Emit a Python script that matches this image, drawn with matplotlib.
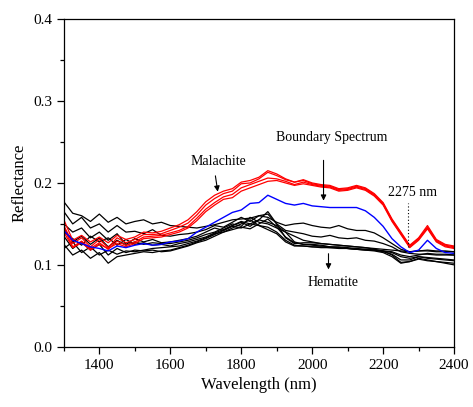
import numpy as np
import matplotlib.pyplot as plt
from matplotlib.ticker import MultipleLocator

plt.rcParams['font.family'] = ['Liberation Serif', 'DejaVu Serif']

# wavelength grid (nm)
wl = np.arange(1300, 2401, 25)

blue = [0.142, 0.130, 0.126, 0.122, 0.120, 0.117, 0.123, 0.121, 0.124, 0.126, 0.124, 0.125,
        0.128, 0.129, 0.132, 0.140, 0.146, 0.152, 0.158, 0.164, 0.167, 0.175, 0.176, 0.185,
        0.180, 0.175, 0.173, 0.175, 0.172, 0.171, 0.170, 0.170, 0.170, 0.170, 0.166, 0.158,
        0.147, 0.132, 0.122, 0.115, 0.118, 0.130, 0.120, 0.115, 0.114]

red1 = [0.155, 0.130, 0.136, 0.128, 0.134, 0.127, 0.136, 0.131, 0.134, 0.140, 0.139, 0.141,
        0.145, 0.149, 0.155, 0.165, 0.177, 0.185, 0.190, 0.193, 0.201, 0.203, 0.207, 0.215,
        0.211, 0.205, 0.201, 0.204, 0.200, 0.198, 0.197, 0.193, 0.194, 0.197, 0.194, 0.187,
        0.176, 0.156, 0.140, 0.124, 0.133, 0.148, 0.131, 0.125, 0.123]
red2 = [0.148, 0.126, 0.133, 0.122, 0.131, 0.121, 0.133, 0.127, 0.131, 0.137, 0.137, 0.138,
        0.142, 0.146, 0.151, 0.161, 0.173, 0.181, 0.187, 0.190, 0.199, 0.200, 0.205, 0.213,
        0.209, 0.204, 0.201, 0.203, 0.199, 0.197, 0.196, 0.192, 0.193, 0.196, 0.193, 0.186,
        0.175, 0.155, 0.139, 0.123, 0.132, 0.146, 0.130, 0.124, 0.122]
red3 = [0.145, 0.122, 0.129, 0.120, 0.127, 0.119, 0.129, 0.124, 0.128, 0.134, 0.135, 0.136,
        0.139, 0.142, 0.147, 0.157, 0.168, 0.176, 0.183, 0.186, 0.194, 0.198, 0.202, 0.206,
        0.205, 0.202, 0.198, 0.201, 0.198, 0.196, 0.195, 0.191, 0.192, 0.195, 0.192, 0.185,
        0.174, 0.154, 0.138, 0.122, 0.131, 0.145, 0.129, 0.123, 0.121]
red4 = [0.140, 0.121, 0.127, 0.118, 0.125, 0.120, 0.126, 0.122, 0.126, 0.132, 0.133, 0.134,
        0.137, 0.140, 0.145, 0.154, 0.165, 0.173, 0.180, 0.182, 0.190, 0.194, 0.198, 0.202,
        0.203, 0.200, 0.197, 0.199, 0.197, 0.195, 0.194, 0.190, 0.191, 0.194, 0.191, 0.184,
        0.173, 0.153, 0.137, 0.121, 0.130, 0.144, 0.128, 0.122, 0.120]

black1 = [0.177, 0.163, 0.160, 0.153, 0.162, 0.152, 0.158, 0.150, 0.153, 0.155, 0.150, 0.152,
          0.148, 0.147, 0.146, 0.145, 0.147, 0.149, 0.152, 0.155, 0.156, 0.157, 0.160, 0.158,
          0.152, 0.148, 0.150, 0.151, 0.148, 0.146, 0.145, 0.148, 0.144, 0.142, 0.142, 0.139,
          0.133, 0.126, 0.119, 0.116, 0.117, 0.118, 0.117, 0.117, 0.116]
black2 = [0.165, 0.150, 0.158, 0.145, 0.150, 0.140, 0.148, 0.140, 0.141, 0.138, 0.143, 0.136,
          0.135, 0.137, 0.138, 0.140, 0.143, 0.148, 0.146, 0.152, 0.158, 0.153, 0.160, 0.162,
          0.150, 0.142, 0.140, 0.138, 0.135, 0.134, 0.136, 0.133, 0.132, 0.133, 0.130, 0.129,
          0.126, 0.122, 0.116, 0.114, 0.113, 0.113, 0.112, 0.112, 0.112]
black3 = [0.150, 0.140, 0.145, 0.133, 0.140, 0.130, 0.138, 0.125, 0.132, 0.128, 0.131, 0.127,
          0.128, 0.130, 0.132, 0.135, 0.140, 0.145, 0.142, 0.148, 0.152, 0.147, 0.155, 0.165,
          0.150, 0.133, 0.126, 0.127, 0.127, 0.126, 0.125, 0.124, 0.123, 0.122, 0.121, 0.119,
          0.117, 0.112, 0.103, 0.104, 0.108, 0.106, 0.104, 0.102, 0.100]
black4 = [0.145, 0.128, 0.135, 0.125, 0.133, 0.122, 0.130, 0.124, 0.128, 0.125, 0.127, 0.126,
          0.126, 0.128, 0.130, 0.133, 0.137, 0.140, 0.145, 0.150, 0.147, 0.158, 0.152, 0.150,
          0.145, 0.140, 0.128, 0.125, 0.125, 0.124, 0.122, 0.122, 0.121, 0.120, 0.119, 0.118,
          0.116, 0.113, 0.106, 0.106, 0.110, 0.108, 0.107, 0.106, 0.105]
black5 = [0.140, 0.132, 0.124, 0.135, 0.128, 0.133, 0.124, 0.131, 0.125, 0.127, 0.124, 0.125,
          0.123, 0.126, 0.128, 0.131, 0.134, 0.139, 0.143, 0.148, 0.153, 0.150, 0.148, 0.146,
          0.140, 0.130, 0.124, 0.123, 0.122, 0.121, 0.121, 0.120, 0.120, 0.119, 0.118, 0.118,
          0.117, 0.116, 0.112, 0.110, 0.112, 0.114, 0.113, 0.113, 0.112]
black6 = [0.135, 0.120, 0.128, 0.118, 0.125, 0.112, 0.120, 0.115, 0.118, 0.117, 0.118, 0.116,
          0.117, 0.120, 0.123, 0.127, 0.130, 0.135, 0.140, 0.143, 0.146, 0.144, 0.150, 0.156,
          0.146, 0.134, 0.127, 0.125, 0.124, 0.123, 0.122, 0.121, 0.120, 0.119, 0.118, 0.117,
          0.115, 0.110, 0.102, 0.104, 0.107, 0.105, 0.104, 0.103, 0.102]
black7 = [0.125, 0.112, 0.118, 0.108, 0.115, 0.102, 0.110, 0.112, 0.114, 0.116, 0.115, 0.117,
          0.118, 0.121, 0.124, 0.128, 0.132, 0.137, 0.142, 0.147, 0.145, 0.150, 0.155, 0.152,
          0.148, 0.140, 0.135, 0.130, 0.128, 0.126, 0.125, 0.124, 0.123, 0.122, 0.121, 0.120,
          0.119, 0.118, 0.117, 0.116, 0.117, 0.117, 0.116, 0.116, 0.116]
black8 = [0.120, 0.128, 0.115, 0.122, 0.112, 0.118, 0.113, 0.117, 0.116, 0.118, 0.120, 0.121,
          0.122, 0.123, 0.126, 0.129, 0.133, 0.138, 0.140, 0.145, 0.150, 0.155, 0.148, 0.143,
          0.138, 0.128, 0.123, 0.123, 0.122, 0.122, 0.121, 0.121, 0.120, 0.119, 0.119, 0.118,
          0.117, 0.115, 0.110, 0.108, 0.110, 0.109, 0.108, 0.107, 0.106]

hematite = [black1, black2, black3, black4, black5, black6, black7, black8]
malachite = [red1, red2, red3, red4]

fig = plt.figure(figsize=(4.73, 4.07), dpi=100)
ax = fig.add_axes([0.135, 0.148, 0.825, 0.805])

for s in hematite:
    ax.plot(wl, s, color='black', lw=0.9)
for s in malachite:
    ax.plot(wl, s, color='red', lw=0.9)
ax.plot(wl, blue, color='blue', lw=1.0)

ax.set_xlim(1300, 2400)
ax.set_ylim(0, 0.4)
ax.xaxis.set_major_locator(MultipleLocator(200))
ax.xaxis.set_minor_locator(MultipleLocator(100))
ax.yaxis.set_major_locator(MultipleLocator(0.1))
ax.yaxis.set_minor_locator(MultipleLocator(0.05))
ax.yaxis.set_major_formatter(plt.FormatStrFormatter('%.1f'))
ax.tick_params(which='major', direction='out', length=5, width=0.9, labelsize=11)
ax.tick_params(which='minor', direction='out', length=3, width=0.9)
for sp in ax.spines.values():
    sp.set_linewidth(0.9)

ax.set_xlabel('Wavelength (nm)', fontsize=12)
ax.set_ylabel('Reflectance', fontsize=12)

arw = dict(arrowstyle='-|>', color='black', lw=0.8, mutation_scale=8)
ax.annotate('', xy=(1735, 0.186), xytext=(1726, 0.212), arrowprops=arw)
ax.text(1735, 0.226, 'Malachite', ha='center', va='center', fontsize=10)
ax.annotate('', xy=(2032, 0.175), xytext=(2032, 0.231), arrowprops=arw)
ax.text(2054, 0.256, 'Boundary Spectrum', ha='center', va='center', fontsize=10)
ax.annotate('', xy=(2046, 0.091), xytext=(2046, 0.117), arrowprops=arw)
ax.text(2060, 0.079, 'Hematite', ha='center', va='center', fontsize=10)
ax.plot([2271, 2271], [0.122, 0.176], color='black', lw=0.8, ls=(0, (1, 2)))
ax.text(2282, 0.188, '2275 nm', ha='center', va='center', fontsize=10)

fig.savefig('out.png', dpi=100)
